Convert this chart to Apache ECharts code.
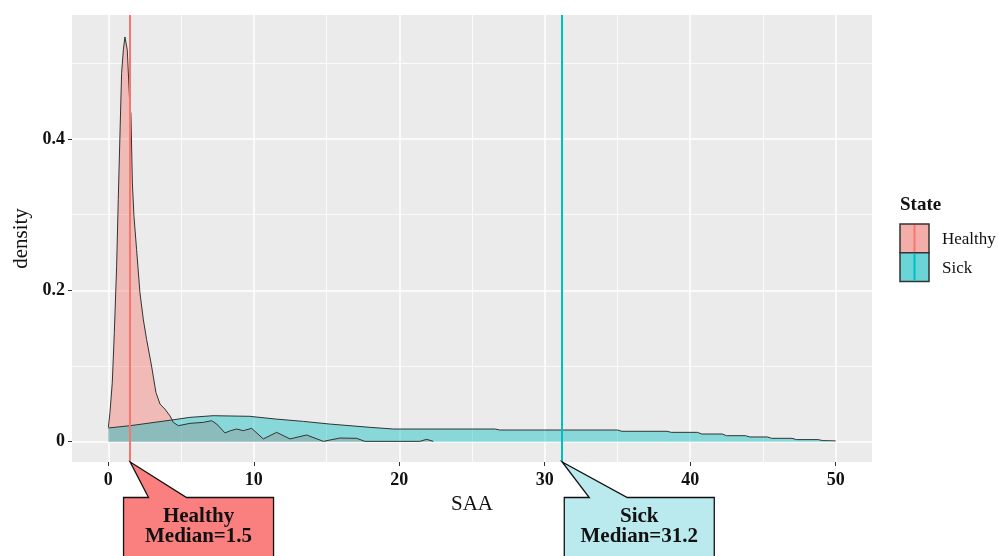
<!DOCTYPE html>
<html>
<head>
<meta charset="utf-8">
<script src="https://cdn.jsdelivr.net/npm/echarts@6/dist/echarts.min.js"></script>
<style>html,body{margin:0;padding:0;background:#fff;}#c{width:998px;height:556px;}</style>
</head>
<body>
<div id="c"></div>
<script>
// ---- data ----
const categories = ['Healthy', 'Sick'];
const xMajor = [0, 10, 20, 30, 40, 50];
const xMinor = [5, 15, 25, 35, 45];
const yMajor = [0, 0.2, 0.4];
const yMinor = [0.1, 0.3, 0.5];
const xTitle = 'SAA';
const yTitle = 'density';
const legendTitle = 'State';

const healthyX = [0, 0.11, 0.27, 0.41, 0.57, 0.68, 0.80, 0.91, 1.03, 1.14, 1.23, 1.30, 1.37, 1.49, 1.55, 1.65, 1.76, 1.94, 2.17, 2.40, 2.63, 2.97, 3.27, 3.55, 3.89, 4.24, 4.46,
  4.81, 5.61, 6.53, 7.10, 7.45, 8.02, 8.40, 8.82, 9.28, 9.85, 10.65, 11.57, 12.49, 13.63, 14.78, 15.92, 17.07, 17.64, 21.42, 21.88, 22.34];
const healthyY = [0.0189, 0.0387, 0.078, 0.144, 0.232, 0.320, 0.408, 0.487, 0.518, 0.535, 0.5375, 0.518, 0.5155, 0.4386, 0.434, 0.342, 0.298, 0.254, 0.197, 0.162, 0.135, 0.100, 0.065, 0.0497, 0.043, 0.034, 0.0256,
  0.0211, 0.0242, 0.0255, 0.0277, 0.0233, 0.0115, 0.0145, 0.0167, 0.0145, 0.0176, 0.0036, 0.0123, 0.0036, 0.0088, 0.0004, 0.0048, 0.0044, 0.0004, 0.0004, 0.0031, 0.0004];

const sickX = [0, 1.5, 4.35, 5.6, 7.2, 9.7, 11.5, 13.4, 15.2, 18.0, 19.6, 26.6, 26.9, 35.0, 35.3, 38.4, 38.7, 40.5, 40.8, 42.2, 42.5, 43.8, 44.1, 45.3, 45.6, 47.0, 47.3, 48.8, 49.1, 50];
const sickY = [0.0181, 0.0211, 0.0286, 0.0321, 0.0343, 0.0335, 0.0299, 0.0268, 0.0233, 0.0189, 0.0167, 0.0167, 0.0154, 0.0154, 0.0137, 0.0137, 0.0123, 0.0123, 0.0101, 0.0101, 0.0079, 0.0079, 0.0062, 0.0062, 0.0044, 0.0044, 0.0027, 0.0027, 0.0014, 0.001];

const medians = [1.5, 31.2];
const calloutCenters = [6.2, 36.5];
const calloutTexts = [['Healthy', 'Median=1.5'], ['Sick', 'Median=31.2']];

// ---- styles ----
const FONT = "'Liberation Serif', 'Times New Roman', serif";
const lineColors = ['#F8766D', '#00BFC4'];
const areaColors = ['rgba(248,118,109,0.6)', 'rgba(0,191,196,0.6)'];
const keyColors = ['#F4AEA9', '#6AD4D6'];
const boxColors = ['#FA8080', '#BAE9EE'];

const chart = echarts.init(document.getElementById('c'), null, {renderer: 'canvas'});

function zip(xs, ys) { return xs.map((x, i) => [x, ys[i]]); }

const xBase = {
  type: 'value', min: -2.5, max: 52.5, gridIndex: 0, position: 'bottom',
  axisLine: {show: false, onZero: false}
};
const yBase = {
  type: 'value', min: -0.0269, max: 0.564, gridIndex: 0, position: 'left',
  axisLine: {show: false, onZero: false}
};

const option = {
  animation: false,
  backgroundColor: '#ffffff',
  grid: {left: 72, right: 126, top: 15, bottom: 94, show: true, backgroundColor: '#EBEBEB', borderWidth: 0},
  xAxis: [
    Object.assign({}, xBase, {
      name: xTitle, nameLocation: 'middle', nameGap: 32,
      nameTextStyle: {fontFamily: FONT, fontSize: 21, color: '#111'},
      axisTick: {show: true, length: 4, customValues: xMajor, lineStyle: {color: '#333', width: 1}},
      axisLabel: {show: true, customValues: xMajor, margin: 9, fontFamily: FONT, fontSize: 18, fontWeight: 'bold', color: '#111',
        formatter: v => (xMajor.indexOf(v) >= 0 ? String(v) : '')},
      splitLine: {show: true, lineStyle: {color: '#FFFFFF', width: 1.5}}
    }),
    Object.assign({}, xBase, {
      axisTick: {show: false, customValues: xMinor},
      axisLabel: {show: false, customValues: xMinor},
      splitLine: {show: true, lineStyle: {color: '#FFFFFF', width: 0.8}}
    })
  ],
  yAxis: [
    Object.assign({}, yBase, {
      name: yTitle, nameLocation: 'middle', nameGap: 40, nameRotate: 90,
      nameTextStyle: {fontFamily: FONT, fontSize: 21, color: '#111'},
      axisTick: {show: true, length: 4, customValues: yMajor, lineStyle: {color: '#333', width: 1}},
      axisLabel: {show: true, customValues: yMajor, margin: 7, fontFamily: FONT, fontSize: 18, fontWeight: 'bold', color: '#111',
        formatter: v => (yMajor.some(m => Math.abs(m - v) < 1e-9) ? (v === 0 ? '0' : v.toFixed(1)) : '')},
      splitLine: {show: true, lineStyle: {color: '#FFFFFF', width: 1.5}}
    }),
    Object.assign({}, yBase, {
      axisTick: {show: false, customValues: yMinor},
      axisLabel: {show: false, customValues: yMinor},
      splitLine: {show: true, lineStyle: {color: '#FFFFFF', width: 0.8}}
    })
  ],
  series: [
    {
      name: categories[0], type: 'line', xAxisIndex: 0, yAxisIndex: 0,
      data: zip(healthyX, healthyY), showSymbol: false, symbol: 'none', smooth: false,
      lineStyle: {color: '#333', width: 1},
      areaStyle: {color: areaColors[0], origin: 0},
      markLine: {silent: true, symbol: 'none', label: {show: false},
        lineStyle: {color: lineColors[0], width: 2, type: 'solid'},
        data: [{xAxis: medians[0]}]}
    },
    {
      name: categories[1], type: 'line', xAxisIndex: 0, yAxisIndex: 0,
      data: zip(sickX, sickY), showSymbol: false, symbol: 'none', smooth: false,
      lineStyle: {color: '#333', width: 1},
      areaStyle: {color: areaColors[1], origin: 0},
      markLine: {silent: true, symbol: 'none', label: {show: false},
        lineStyle: {color: lineColors[1], width: 2, type: 'solid'},
        data: [{xAxis: medians[1]}]}
    }
  ]
};
chart.setOption(option);

// ---- annotations (callouts) and legend ----
const graphics = [];
const yMinVal = yBase.min;
medians.forEach((m, i) => {
  const tip = chart.convertToPixel({xAxisIndex: 0, yAxisIndex: 0}, [m, yMinVal]);
  const ctr = chart.convertToPixel({xAxisIndex: 0, yAxisIndex: 0}, [calloutCenters[i], yMinVal]);
  const cx = ctr[0];
  const T = tip[1] + 35.5, B = T + 110, L = cx - 75, R = cx + 75;
  graphics.push({
    type: 'polygon', z: 100,
    shape: {points: [[L, T], [cx - 50, T], [tip[0], tip[1]], [cx - 12, T], [R, T], [R, B], [L, B]]},
    style: {fill: boxColors[i], stroke: '#111', lineWidth: 1.3}
  });
  calloutTexts[i].forEach((t, j) => {
    graphics.push({
      type: 'text', z: 101, x: cx, y: T + 19.5 + j * 19.5,
      style: {text: t, fontFamily: FONT, fontSize: 21, fontWeight: 'bold', fill: '#111', align: 'center', verticalAlign: 'middle'}
    });
  });
});

// legend
const LX = 900, LY = 224, KW = 29, KH = 28.7;
graphics.push({type: 'text', z: 100, x: LX, y: 205,
  style: {text: legendTitle, fontFamily: FONT, fontSize: 19, fontWeight: 'bold', fill: '#111', align: 'left', verticalAlign: 'middle'}});
categories.forEach((c, i) => {
  const y0 = LY + i * KH;
  graphics.push({type: 'rect', z: 100, shape: {x: LX, y: y0, width: KW, height: KH},
    style: {fill: keyColors[i], stroke: '#333', lineWidth: 1.5}});
  graphics.push({type: 'line', z: 101, shape: {x1: LX + KW / 2, y1: y0 + 1, x2: LX + KW / 2, y2: y0 + KH - 1},
    style: {stroke: lineColors[i], lineWidth: 2}});
  graphics.push({type: 'text', z: 100, x: LX + 42, y: y0 + KH / 2 + 1,
    style: {text: c, fontFamily: FONT, fontSize: 17, fill: '#111', align: 'left', verticalAlign: 'middle'}});
});
chart.setOption({graphic: graphics});
</script>
</body>
</html>
